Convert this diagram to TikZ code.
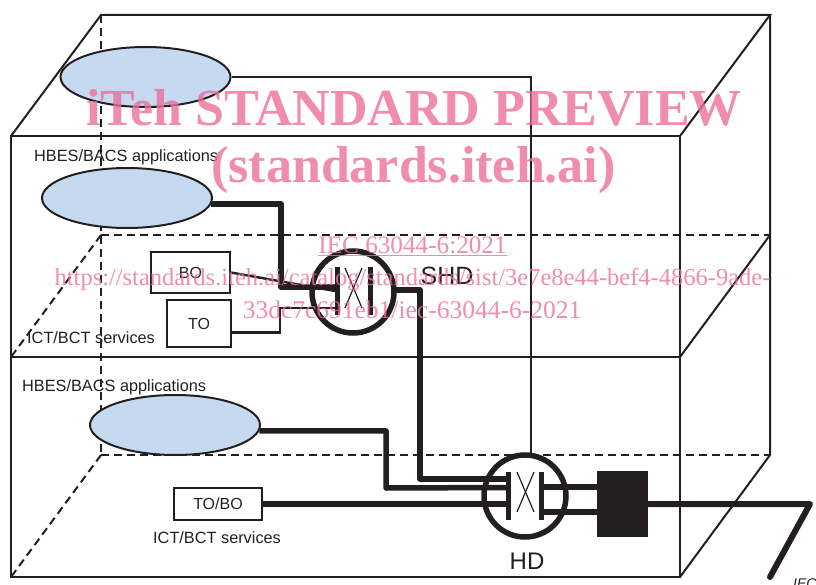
\documentclass[tikz,border=0pt]{standalone}
\usepackage{fontspec}
\setmainfont{Liberation Sans}
\newfontfamily\markfont{Liberation Serif}
\definecolor{appblue}{HTML}{C5D9F0}
\definecolor{inkline}{HTML}{231F20}
\definecolor{markpink}{HTML}{EC6F9B}
\tikzset{
	wire/.style={inkline, line width=2pt},
	dashwire/.style={inkline, line width=2pt, dash pattern=on 8pt off 5pt},
	thinwire/.style={inkline, line width=2.4pt},
	thickwire/.style={inkline, line width=5.5pt, line join=round},
	app/.style={draw=inkline, line width=2pt, fill=appblue, ellipse, minimum width=170pt, minimum height=60pt, inner sep=0pt},
	devbox/.style={draw=inkline, line width=1.8pt, inner sep=0pt, text=inkline, font=\fontsize{16}{18}\selectfont},
	lbl/.style={inner sep=0pt, text=inkline, font=\fontsize{16.3}{18}\selectfont},
	devcircle/.style={draw=inkline, line width=5.5pt, circle, minimum size=82pt, inner sep=0pt},
	bar/.style={inkline, line width=5pt},
	xline/.style={inkline, line width=1.2pt},
	watermark/.style={inner sep=0pt, text=markpink, text opacity=0.8, font=\markfont\fontsize{20.5}{24}\selectfont}
}
\usetikzlibrary{shapes.geometric}
\begin{document}
\begin{tikzpicture}[x=1pt,y=-1pt]
	\useasboundingbox (0,0) rectangle (816,585);
	% building corners
	\coordinate (ftl) at (11,136);
	\coordinate (ftr) at (680,136);
	\coordinate (fml) at (11,357);
	\coordinate (fmr) at (680,357);
	\coordinate (fbl) at (11,577);
	\coordinate (fbr) at (680,577);
	\coordinate (btl) at (101,15);
	\coordinate (btr) at (770,15);
	\coordinate (bml) at (101,235);
	\coordinate (bmr) at (770,235);
	\coordinate (bbl) at (101,455);
	\coordinate (bbr) at (770,455);
	% hidden edges
	\draw[dashwire] (btl) -- (bbl);
	\draw[dashwire] (bml) -- (bmr);
	\draw[dashwire] (bbl) -- (bbr);
	\draw[dashwire] (bml) -- (fml);
	\draw[dashwire] (bbl) -- (fbl);
	% visible edges
	\draw[wire] (ftl) rectangle (fbr);
	\draw[wire] (fml) -- (fmr);
	\draw[wire] (ftl) -- (btl) -- (btr) -- (ftr);
	\draw[wire] (btr) -- (bbr) -- (fbr);
	\draw[wire] (bmr) -- (fmr);
	% applications
	\node[app] (apptop) at (145.5,77) {};
	\node[app] (appmid) at (127,198) {};
	\node[app] (applow) at (175,425) {};
	% devices
	\node[devbox, minimum width=79pt, minimum height=41pt] (bo) at (190.5,272.5) {BO};
	\node[devbox, minimum width=64pt, minimum height=47pt] (to) at (199,323.5) {TO};
	\node[devbox, minimum width=88pt, minimum height=32pt] (tobo) at (218,504) {TO/BO};
	\node[devcircle] (shd) at (353,292) {};
	\node[devcircle] (hd) at (525,496) {};
	\node[fill=inkline, minimum width=51pt, minimum height=66pt, inner sep=0pt] (block) at (622.5,504) {};
	% bars in the circles
	\foreach \n\x\y in {shdl/337/267,shdr/370/267,hdl/508/472,hdr/541/472}{
		\coordinate (\n a) at (\x,\y);
		\coordinate (\n b) at (\x,\y+48);
		\draw[bar] (\n a) -- (\n b);
	}
	\foreach \x\y in {345/268,517/472}{
		\draw[xline] (\x,\y) -- (\x+17,\y+40);
		\draw[xline] (\x+17,\y) -- (\x,\y+40);
	}
	% connectors
	\coordinate (midturn) at (281,287);
	\coordinate (shdpt) at (337,287);
	\coordinate (shdbo) at (335,291);
	\coordinate (toturn) at (280,308);
	\coordinate (shdto) at (337,308);
	\coordinate (shdout) at (395,290);
	\coordinate (hdturn) at (420,479);
	\coordinate (hdin) at (508,479);
	\coordinate (lowturn) at (386,488);
	\coordinate (hdlow) at (508,487.5);
	\coordinate (hdto) at (508,504);
	\coordinate (hdr1) at (541,487);
	\coordinate (hdr2) at (541,512);
	\coordinate (bend) at (810,504);
	\coordinate (iecend) at (770,577);
	\draw[thickwire] (appmid.-4) -| (midturn) -- (shdpt);
	\draw[thinwire] (bo.east |- 0,272.5) -- (shdbo);
	\draw[thinwire] (to.east |- 0,332.5) -| (toturn) -- (shdto);
	\draw[thickwire] (shdout) -| (hdturn) -- (hdin);
	\draw[thickwire] (applow.-4) -| (lowturn) -- (hdlow);
	\draw[thickwire] (tobo) ++(44,0) -- (hdto);
	\draw[thickwire] (hdr1) -- (hdr1 -| block.west);
	\draw[thickwire] (hdr2) -- (hdr2 -| block.west);
	\draw[thickwire, line width=6pt, line cap=round] (block.east) -- (bend) -- (iecend);
	\draw[thinwire] (apptop.east) -| (hd.82);
	% labels
	\node[lbl, anchor=west] (hbestop) at (34,157) {HBES/BACS applications};
	\node[lbl, anchor=west] (hbeslow) at (22,387) {HBES/BACS applications};
	\node[lbl, anchor=west] (icttop) at (27,338) {ICT/BCT services};
	\node[lbl, anchor=west] (ictlow) at (153,538) {ICT/BCT services};
	\node[lbl, font=\fontsize{25}{28}\selectfont] (shdlbl) at (447,276) {SHD};
	\node[lbl, font=\fontsize{24}{27}\selectfont] (hdlbl) at (527,561) {HD};
	\node[lbl, anchor=west, font=\itshape\fontsize{14}{16}\selectfont] (ieclbl) at (793,584) {IEC};
	% preview stamp
	\node[watermark, font=\markfont\bfseries\fontsize{52}{56}\selectfont] (stampa) at (414,108) {iTeh STANDARD PREVIEW};
	\node[watermark, font=\markfont\bfseries\fontsize{52}{56}\selectfont] (stampb) at (413.5,170) {(standards.iteh.ai)};
	\node[watermark, font=\markfont\fontsize{25.2}{30}\selectfont] (stampc) at (412.5,246) {\underline{IEC 63044-6:2021}};
	\node[watermark, font=\markfont\fontsize{24.5}{30}\selectfont] (stampd) at (412.5,280) {https://standards.iteh.ai/catalog/standards/sist/3e7e8e44-bef4-4866-9ade-};
	\node[watermark, font=\markfont\fontsize{25.5}{30}\selectfont] (stampe) at (412,310) {33dc7c691eb1/iec-63044-6-2021};
\end{tikzpicture}
\end{document}
